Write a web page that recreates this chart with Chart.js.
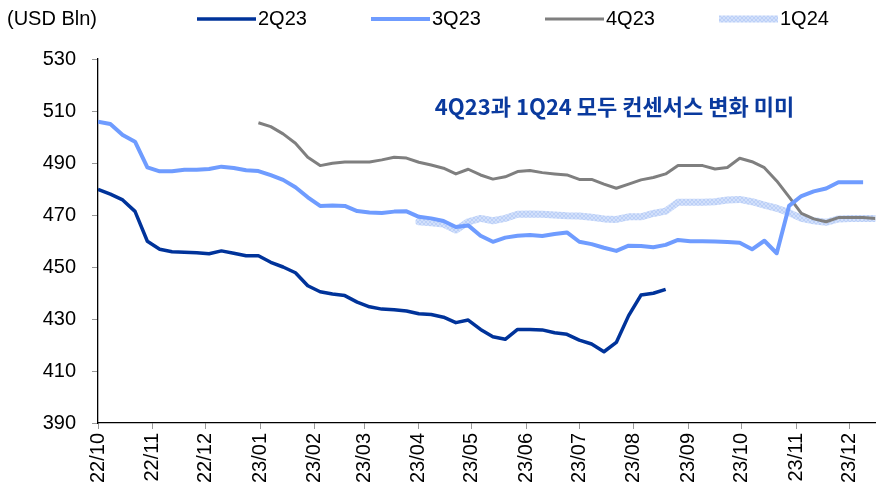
<!DOCTYPE html>
<html>
<head>
<meta charset="utf-8">
<script src="https://cdn.jsdelivr.net/npm/chart.js@4.4.1/dist/chart.umd.min.js"></script>
<style>
  html, body { margin: 0; padding: 0; background: #fff; }
  #wrap { width: 877px; height: 491px; }
</style>
</head>
<body>
<div id="wrap"><canvas id="chart"></canvas></div>
<script>
// x axis: days since 2022-10-01, labelled at each month start
const monthLabels = ['22/10', '22/11', '22/12', '23/01', '23/02', '23/03', '23/04', '23/05',
                     '23/06', '23/07', '23/08', '23/09', '23/10', '23/11', '23/12'];
const monthDays = [0, 31, 61, 92, 123, 151, 182, 212, 243, 273, 304, 335, 365, 396, 426];

// weekly consensus (USD bn); each series begins at its start week
const q2_23Start = 0;
const q2_23 = [479.9, 478.0, 475.8, 471.4, 459.9, 456.8, 455.9, 455.7, 455.5, 455.1,
               456.2, 455.3, 454.3, 454.3, 451.8, 450.0, 447.8, 442.8, 440.5, 439.6,
               439.0, 436.5, 434.7, 433.8, 433.6, 433.1, 432.0, 431.7, 430.7, 428.6,
               429.6, 426.0, 423.2, 422.2, 426.0, 426.0, 425.8, 424.7, 424.1, 421.9,
               420.4, 417.4, 421.0, 431.3, 439.2, 439.9, 441.4];

const q3_23Start = 0;
const q3_23 = [505.9, 505.0, 500.8, 498.2, 488.3, 486.8, 486.8, 487.4, 487.4, 487.7,
               488.6, 488.1, 487.2, 486.9, 485.3, 483.5, 480.7, 476.8, 473.5, 473.7,
               473.5, 471.5, 471.0, 470.8, 471.3, 471.4, 469.3, 468.7, 467.7, 465.4,
               466.0, 462.0, 459.7, 461.3, 462.0, 462.3, 461.9, 462.7, 463.3, 459.7,
               458.8, 457.4, 456.2, 458.2, 458.1, 457.6, 458.5, 460.4, 459.9, 459.9,
               459.8, 459.6, 459.3, 456.8, 460.1, 455.3, 473.5, 477.3, 479.1, 480.2,
               482.6, 482.6, 482.6];

const q4_23Start = 13;
const q4_23 = [505.5, 504.0, 501.2, 497.6, 492.2, 489.0, 489.9, 490.4, 490.4, 490.4,
               491.2, 492.2, 491.9, 490.3, 489.2, 488.0, 485.8, 487.6, 485.4, 483.8,
               484.7, 486.7, 487.1, 486.3, 485.8, 485.4, 483.7, 483.7, 481.9, 480.3,
               481.9, 483.5, 484.4, 485.8, 489.0, 489.0, 489.0, 487.7, 488.3, 491.8,
               490.5, 488.2, 483.1, 477.0, 470.6, 468.5, 467.4, 469.0, 469.0, 469.0,
               468.7];

const q1_24Start = 26;
const q1_24 = [467.4, 467.0, 466.5, 464.2, 467.4, 468.7, 467.8, 468.7, 470.3, 470.4,
               470.3, 470.0, 469.7, 469.6, 469.1, 468.5, 468.3, 469.3, 469.3, 470.6,
               471.5, 474.9, 474.9, 474.9, 475.1, 475.8, 476.0, 475.1, 473.8, 472.6,
               470.9, 468.7, 467.8, 467.2, 468.5, 468.7, 468.7, 468.7];

const FONT = '"Liberation Sans", Arial, sans-serif';

function toPoints(start, values) {
  return values.map((v, i) => ({ x: (start + i) * 7, y: v }));
}

// pale hatched fill used for the 1Q24 stroke
function hatchPattern() {
  const c = document.createElement('canvas');
  c.width = 4; c.height = 4;
  const g = c.getContext('2d');
  g.fillStyle = '#d2e0fb';
  g.fillRect(0, 0, 4, 4);
  g.strokeStyle = '#bcd0f7';
  g.lineWidth = 1;
  g.beginPath();
  g.moveTo(0, 0); g.lineTo(4, 4);
  g.moveTo(4, 0); g.lineTo(0, 4);
  g.stroke();
  return g.createPattern(c, 'repeat');
}

const hatch = hatchPattern();

// legend row, unit label and the note
const headerPlugin = {
  id: 'header',
  afterDraw(chart) {
    const ctx = chart.ctx;
    ctx.save();
    ctx.font = '20px ' + FONT;
    ctx.fillStyle = '#000';
    ctx.textBaseline = 'middle';
    ctx.textAlign = 'left';
    ctx.fillText('(USD Bln)', 7, 19);
    chart.data.datasets.forEach((ds, i) => {
      const x0 = 197 + 174 * i;
      ctx.beginPath();
      ctx.moveTo(x0, 19);
      ctx.lineTo(x0 + 59, 19);
      ctx.lineWidth = ds.borderWidth;
      ctx.strokeStyle = ds.borderColor;
      ctx.lineCap = 'butt';
      ctx.stroke();
      ctx.fillStyle = '#000';
      ctx.fillText(ds.label, x0 + 61, 19);
    });

    const x = chart.scales.x.getPixelForValue(293);
    const y = chart.scales.y.getPixelForValue(511.5);
    ctx.font = 'bold 22px "Noto Sans CJK KR", sans-serif';
    ctx.fillStyle = '#0a3a9e';
    ctx.textAlign = 'center';
    ctx.fillText('4Q23과 1Q24 모두 컨센서스 변화 미미', x, y);
    ctx.restore();
  }
};

new Chart(document.getElementById('chart'), {
  type: 'line',
  data: {
    datasets: [
      { label: '2Q23', data: toPoints(q2_23Start, q2_23), borderColor: '#00339a', borderWidth: 3.5 },
      { label: '3Q23', data: toPoints(q3_23Start, q3_23), borderColor: '#6f9cff', borderWidth: 4 },
      { label: '4Q23', data: toPoints(q4_23Start, q4_23), borderColor: '#7f7f7f', borderWidth: 3 },
      { label: '1Q24', data: toPoints(q1_24Start, q1_24), borderColor: hatch, borderWidth: 7,
        borderCapStyle: 'round', order: 5 }
    ]
  },
  options: {
    responsive: true,
    maintainAspectRatio: false,
    animation: false,
    layout: { padding: { top: 59, right: 0, bottom: 0, left: 0 } },
    elements: {
      line: { tension: 0, borderJoinStyle: 'round' },
      point: { radius: 0, hoverRadius: 0 }
    },
    plugins: {
      legend: { display: false },
      tooltip: { enabled: false }
    },
    scales: {
      x: {
        type: 'linear',
        min: 0,
        max: 441,
        afterBuildTicks: s => { s.ticks = monthDays.map(v => ({ value: v })); },
        afterFit: s => { s.height = 68; },
        ticks: {
          autoSkip: false,
          minRotation: 90,
          maxRotation: 90,
          padding: 4,
          color: '#000',
          font: { family: FONT, size: 20 },
          callback: (v, i) => monthLabels[i]
        },
        grid: { drawOnChartArea: false, tickLength: 6, tickColor: '#999' },
        border: { color: '#000', width: 1.3 }
      },
      y: {
        min: 390,
        max: 530,
        afterFit: s => { s.width = 98; },
        ticks: {
          stepSize: 20,
          padding: 16,
          color: '#000',
          font: { family: FONT, size: 20 }
        },
        grid: { drawOnChartArea: false, tickLength: 6, tickColor: '#999' },
        border: { color: '#000', width: 1.3 }
      }
    }
  },
  plugins: [headerPlugin]
});
</script>
</body>
</html>
